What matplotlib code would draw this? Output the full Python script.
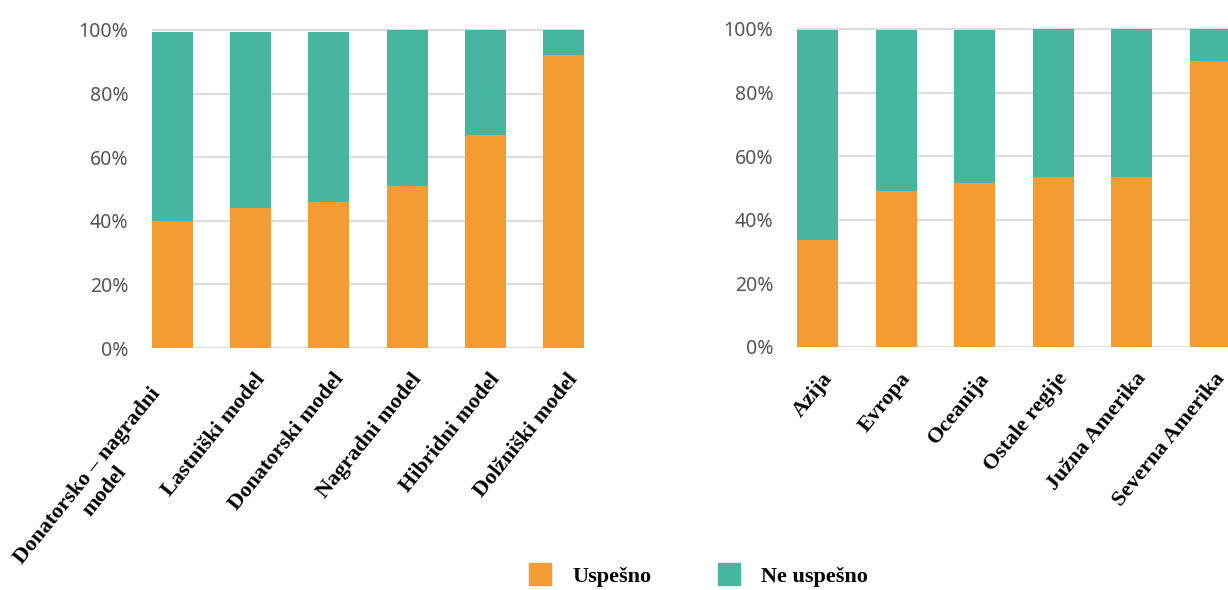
import numpy as np
import matplotlib.pyplot as plt
from matplotlib.patches import Patch
from matplotlib.transforms import ScaledTranslation

# =====================
# Data (% of campaigns)
# =====================
models = ["Donatorsko – nagradni\nmodel", "Lastniški model", "Donatorski model",
          "Nagradni model", "Hibridni model", "Dolžniški model"]
models_success = [40, 44, 46, 51, 67, 92]
models_fail = [59.5, 55.5, 53.5, 49, 33, 8]

regions = ["Azija", "Evropa", "Oceanija", "Ostale regije",
           "Južna Amerika", "Severna Amerika"]
regions_success = [33.5, 49, 51.5, 53.5, 53.5, 90]
regions_fail = [66.3, 50.8, 48.3, 46.5, 46.5, 10]

c_ok = "#F39C33"
c_fail = "#48B5A0"
grid_c = "#DCDCDC"

W, H = 1228, 590
fig = plt.figure(figsize=(W / 100, H / 100), dpi=100)


def px_axes(x0, x1, y0, y1):
    # pixel box (top-left origin) -> figure fraction
    return fig.add_axes([x0 / W, 1 - y1 / H, (x1 - x0) / W, (y1 - y0) / H])


def stacked(ax, labels, ok, fail):
    x = np.arange(len(labels))
    for y in range(0, 101, 20):
        ax.axhline(y, color=grid_c, lw=1.6, zorder=0)
    ax.bar(x, ok, width=0.525, color=c_ok, zorder=2)
    ax.bar(x, fail, width=0.525, bottom=ok, color=c_fail, zorder=2)
    ax.set_xlim(-0.2625, len(labels) - 1 + 0.2625)
    ax.set_ylim(0, 101)
    ax.set_yticks(range(0, 101, 20))
    ax.set_yticklabels([f"{v}%" for v in range(0, 101, 20)],
                       fontsize=14, color="#555555", family="Noto Sans")
    ax.tick_params(axis="y", length=0, pad=17)
    ax.tick_params(axis="x", length=0, pad=10)
    ax.set_xticks(x)
    ax.set_xticklabels(labels, rotation=51, ha="right", va="center",
                       rotation_mode="anchor", multialignment="center",
                       family="Liberation Serif", fontweight="bold",
                       fontsize=16, color="black")
    for lab in ax.get_xticklabels():
        dx, dy = 0.11, -0.14
        if "\n" in lab.get_text():
            # two-line label sits further out along its own direction
            dx, dy = dx - 0.18, dy - 0.22
        lab.set_transform(lab.get_transform() +
                          ScaledTranslation(dx, dy, fig.dpi_scale_trans))
    for s in ax.spines.values():
        s.set_visible(False)
    ax.patch.set_alpha(0)


ax1 = px_axes(152, 584, 26.8, 348)
stacked(ax1, models, models_success, models_fail)

ax2 = px_axes(797, 1231, 25.8, 347)
stacked(ax2, regions, regions_success, regions_fail)

# =====================
# Legend
# =====================
handles = [Patch(color=c_ok, label="Uspešno"),
           Patch(color=c_fail, label="Ne uspešno")]
fig.legend(handles=handles, loc="center left", bbox_to_anchor=(529 / W, 1 - 575 / H),
           ncol=2, frameon=False, handlelength=1.0, handleheight=1.1,
           columnspacing=3.0, handletextpad=0.95, borderpad=0, borderaxespad=0,
           prop={"family": "Liberation Serif", "weight": "bold", "size": 16})

fig.savefig("out.png", dpi=100)
